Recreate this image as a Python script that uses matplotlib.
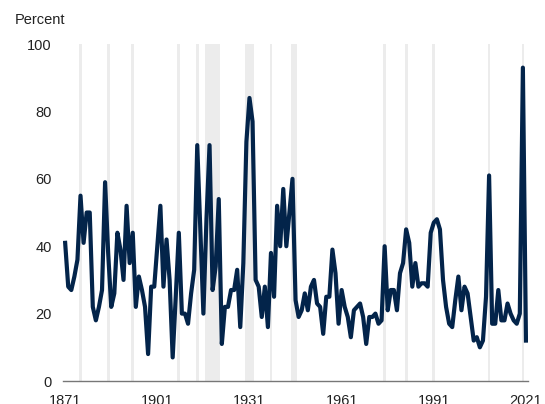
"""
    Percent series, 1871-2021, with shaded years
"""

import matplotlib
matplotlib.use("Agg")
import matplotlib.pyplot as plt

plt.rcParams['font.family'] = ['Liberation Sans', 'DejaVu Sans']

# data
first_year = 1871
values = [
    41, 28, 27, 31, 36, 55, 41, 50, 50, 22,   # 1871-1880
    18, 22, 27, 59, 38, 22, 26, 44, 39, 30,   # 1881-1890
    52, 35, 44, 22, 31, 27, 22, 8, 28, 28,    # 1891-1900
    40, 52, 28, 42, 30, 7, 25, 44, 20, 20,    # 1901-1910
    17, 26, 33, 70, 45, 20, 48, 70, 27, 34,   # 1911-1920
    54, 11, 22, 22, 27, 27, 33, 16, 35, 71,   # 1921-1930
    84, 77, 30, 28, 19, 28, 16, 38, 25, 52,   # 1931-1940
    40, 57, 40, 50, 60, 24, 19, 21, 26, 21,   # 1941-1950
    28, 30, 23, 22, 14, 25, 25, 39, 32, 17,   # 1951-1960
    27, 22, 19, 13, 21, 22, 23, 19, 11, 19,   # 1961-1970
    19, 20, 17, 18, 40, 21, 27, 27, 21, 32,   # 1971-1980
    35, 45, 41, 28, 35, 28, 29, 29, 28, 44,   # 1981-1990
    47, 48, 45, 30, 22, 17, 16, 24, 31, 21,   # 1991-2000
    28, 26, 19, 12, 13, 10, 12, 25, 61, 17,   # 2001-2010
    17, 27, 18, 18, 23, 20, 18, 17, 20, 93,   # 2011-2020
    12,                                       # 2021
]
years = list(range(first_year, first_year + len(values)))

# shaded periods (first year, last year)
shaded = [(1876, 1876), (1885, 1885), (1893, 1893), (1908, 1908), (1914, 1914),
          (1917, 1921), (1930, 1932), (1938, 1938), (1945, 1946), (1975, 1975),
          (1982, 1982), (1991, 1991), (2009, 2009), (2020, 2020)]

x_ticks = [1871, 1901, 1931, 1961, 1991, 2021]
y_ticks = [0, 20, 40, 60, 80, 100]

fig = plt.figure(figsize=(5.45, 4.04), dpi=100)
ax = fig.add_axes([0.1156, 0.0569, 0.8534, 0.8341])

for start, end in shaded:
    ax.axvspan(start - 0.45, end + 0.45, color='#ececec', lw=0, zorder=0)

ax.plot(years, values, color='#03244a', lw=3, solid_joinstyle='round', zorder=3)

ax.set_xlim(1870.3, 2021.7)
ax.set_ylim(0, 100)
ax.set_xticks(x_ticks)
ax.set_yticks(y_ticks)
ax.tick_params(length=0, labelsize=10.5, colors='#222222')
ax.tick_params(axis='y', pad=8)
ax.tick_params(axis='x', pad=9)

for side in ['top', 'right', 'left']:
    ax.spines[side].set_visible(False)
ax.spines['bottom'].set_color('#777777')
ax.spines['bottom'].set_linewidth(1)

fig.text(15 / 545, 1 - 20 / 404, 'Percent', fontsize=10.5, color='#222222', va='center', ha='left')

fig.savefig('out.png', dpi=100)
